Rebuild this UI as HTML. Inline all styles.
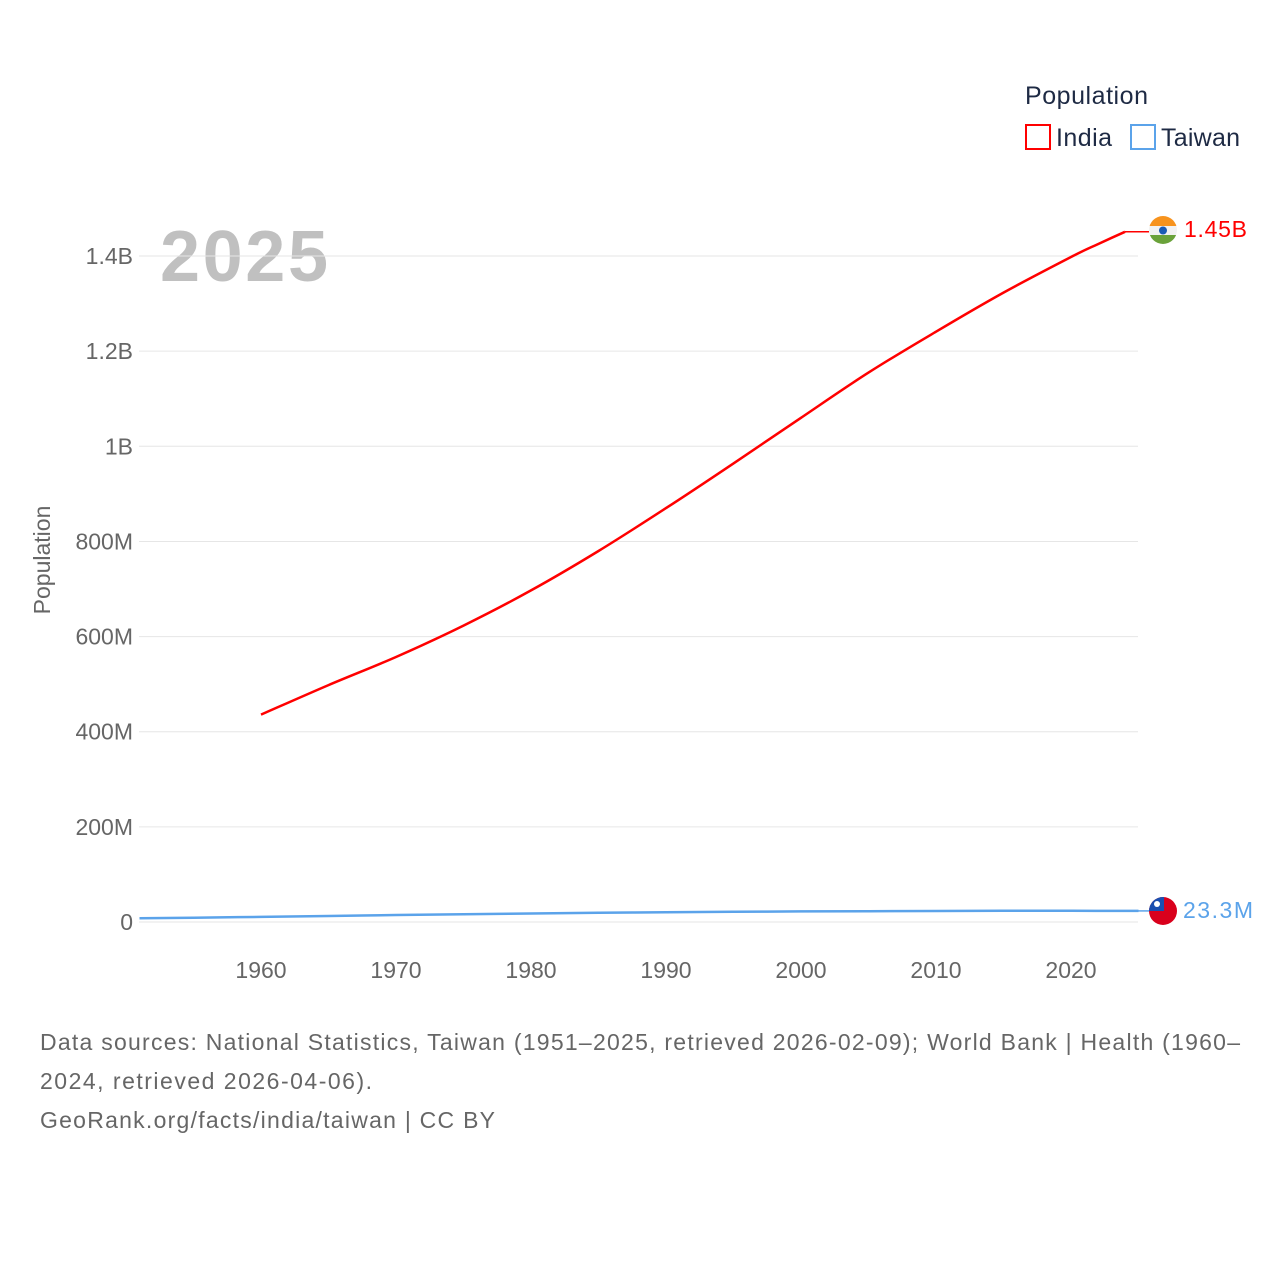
<!DOCTYPE html>
<html><head><meta charset="utf-8"><style>
body{margin:0;background:#fff;width:1280px;height:1280px;overflow:hidden;font-family:"Liberation Sans",sans-serif}
</style></head><body>
<svg id="chart" width="1280" height="1280" xmlns="http://www.w3.org/2000/svg" font-family="Liberation Sans, sans-serif">
<text x="1025" y="104" font-size="25" fill="#1e2a44" textLength="123">Population</text>
<rect x="1026" y="125" width="24" height="24" fill="none" stroke="#ff0000" stroke-width="2"/>
<text x="1056" y="146" font-size="25" fill="#1e2a44" textLength="56">India</text>
<rect x="1131" y="125" width="24" height="24" fill="none" stroke="#5ba3ea" stroke-width="2"/>
<text x="1161" y="146" font-size="25" fill="#1e2a44" textLength="79">Taiwan</text>
<text x="160" y="281" font-size="72" font-weight="bold" fill="#c0c0c0" textLength="168">2025</text>
<text transform="translate(50,560) rotate(-90)" text-anchor="middle" font-size="23" fill="#666">Population</text>
<g id="grid"></g><g id="series"></g>
<g>
<clipPath id="cI"><circle cx="1163" cy="230" r="14"/></clipPath>
<g clip-path="url(#cI)"><rect x="1149" y="216" width="28" height="10" fill="#f7931e"/><rect x="1149" y="226" width="28" height="9" fill="#f2f2f2"/><rect x="1149" y="235" width="28" height="10" fill="#6aa23a"/></g>
<circle cx="1163" cy="230.5" r="4" fill="#1a5bb5"/>
</g>
<text x="1184" y="237" font-size="23" fill="#ff0000" textLength="63">1.45B</text>
<g>
<clipPath id="cT"><circle cx="1163" cy="911" r="14"/></clipPath>
<g clip-path="url(#cT)"><rect x="1149" y="897" width="28" height="28" fill="#d9001c"/><rect x="1149" y="897" width="15" height="14" fill="#1a4fb0"/></g>
<circle cx="1157" cy="904" r="3" fill="#fff"/>
</g>
<text x="1183" y="918" font-size="23" fill="#5ba3ea" textLength="70">23.3M</text>
<text font-size="23" fill="#666"><tspan x="40" y="1050" textLength="1200">Data sources: National Statistics, Taiwan (1951–2025, retrieved 2026-02-09); World Bank | Health (1960–</tspan><tspan x="40" y="1089" textLength="332">2024, retrieved 2026-04-06).</tspan><tspan x="40" y="1128" textLength="455">GeoRank.org/facts/india/taiwan | CC BY</tspan></text>
</svg>
<script>
const yTicks=[0,200e6,400e6,600e6,800e6,1000e6,1200e6,1400e6];
const yTickLabels=["0","200M","400M","600M","800M","1B","1.2B","1.4B"];
const xTicks=[1960,1970,1980,1990,2000,2010,2020];
const indiaYears=[1960,1965,1970,1975,1980,1985,1990,1995,2000,2005,2010,2015,2020,2022,2024];
const indiaValues=[436e6,498e6,557e6,623e6,697e6,780e6,870e6,964e6,1060e6,1155e6,1241e6,1323e6,1398e6,1425e6,1451e6];
const taiwanYears=[1951,1955,1960,1965,1970,1975,1980,1985,1990,1995,2000,2005,2010,2015,2020,2025];
const taiwanValues=[7.9e6,9.1e6,10.8e6,12.6e6,14.7e6,16.2e6,17.8e6,19.3e6,20.4e6,21.4e6,22.3e6,22.8e6,23.2e6,23.5e6,23.56e6,23.3e6];
const NS="http://www.w3.org/2000/svg";
const X=v=>139.5+(v-1951)*13.5;
const Y=v=>922-v/200e6*95.14;
const grid=document.getElementById('grid'),ser=document.getElementById('series');
function mk(t,a,p){const e=document.createElementNS(NS,t);for(const k in a)e.setAttribute(k,a[k]);p.appendChild(e);return e;}
yTicks.forEach((v,i)=>{
 const l=mk('line',{x1:139,x2:1138,y1:Y(v),y2:Y(v),stroke:'#e6e6e6','stroke-width':1},grid);
 
 
 const t=mk('text',{x:133,y:Y(v)+8,'text-anchor':'end','font-size':23,fill:'#666'},grid);t.textContent=yTickLabels[i];
 
 
});
xTicks.forEach(v=>{
 const t=mk('text',{x:X(v),y:978,'text-anchor':'middle','font-size':23,fill:'#666'},grid);t.textContent=v;
 
 
});
function line(xs,vs,c,name){
 const pts=xs.map((x,i)=>[X(x),Y(vs[i])]);
 let d='M'+pts[0][0].toFixed(1)+','+pts[0][1].toFixed(1);
 for(let i=0;i<pts.length-1;i++){
  const p0=pts[i-1]||pts[i],p1=pts[i],p2=pts[i+1],p3=pts[i+2]||p2;
  const c1=[p1[0]+(p2[0]-p0[0])/6,p1[1]+(p2[1]-p0[1])/6],c2=[p2[0]-(p3[0]-p1[0])/6,p2[1]-(p3[1]-p1[1])/6];
  d+='C'+c1.map(n=>n.toFixed(1)).join(',')+' '+c2.map(n=>n.toFixed(1)).join(',')+' '+p2.map(n=>n.toFixed(1)).join(',');
 }
 const p=mk('path',{d:d,fill:'none',stroke:c,'stroke-width':2.5,'stroke-linejoin':'round'},ser);
 
 
 const lx=xs[xs.length-1],lv=vs[vs.length-1];
 const c2=mk('line',{x1:X(lx),x2:1149,y1:Y(lv),y2:Y(lv),stroke:c,'stroke-width':1.5},ser);
 
 
}
line(indiaYears,indiaValues,'#ff0000','india-line');
line(taiwanYears,taiwanValues,'#5ba3ea','taiwan-line');
</script>
</body></html>
